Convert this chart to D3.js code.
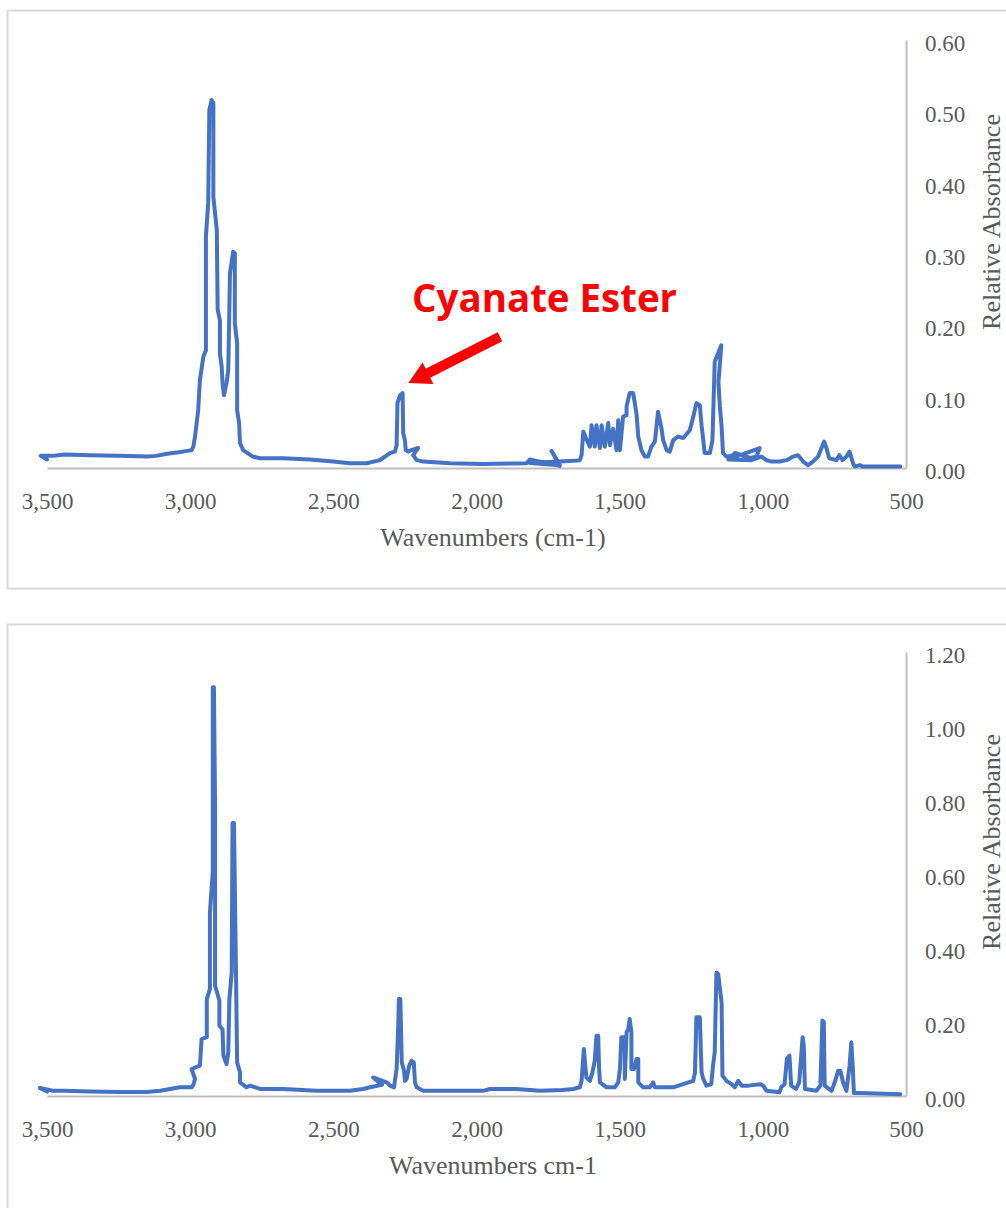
<!DOCTYPE html>
<html>
<head>
<meta charset="utf-8">
<script src="https://cdn.jsdelivr.net/npm/d3@7/dist/d3.min.js"></script>
<style>
  html, body { margin: 0; padding: 0; background: #fff; }
  svg { display: block; }
</style>
</head>
<body>
<svg id="chart" width="1006" height="1208"></svg>
<script>
// FTIR spectra: wavenumber (cm-1) and relative absorbance, traced in scan order
const topWavenumbers = [3500,3522,3480,3440,3350,3250,3150,3120,3080,3040,3010,2995,2989,2983,2972,2966,2954,2945,2945,2937,2933,2925,2919,2919,2907,2904,2896,2896,2890,2887,2882,2873,2867,2864,2861,2850,2844,2844,2836,2836,2829,2826,2815,2781,2756,2675,2582,2500,2442,2384,2337,2320,2302,2285,2279,2276,2267,2258,2256,2250,2247,2239,2227,2204,2221,2209,2186,2093,1977,1825,1814,1709,1738,1709,1814,1660,1639,1633,1627,1616,1604,1598,1587,1581,1569,1563,1552,1540,1534,1523,1511,1505,1499,1488,1476,1476,1465,1453,1447,1441,1435,1424,1412,1401,1389,1377,1366,1354,1348,1336,1325,1313,1296,1278,1255,1243,1232,1220,1214,1208,1203,1185,1176,1168,1145,1155,1150,1144,1139,1127,1104,1098,1045,1022,1011,1120,1040,1005,987,970,941,917,894,877,859,842,825,807,795,786,778,768,743,733,722,708,697,685,679,661,650,520];
const topAbsorbance = [0.012,0.017,0.017,0.019,0.018,0.017,0.016,0.017,0.020,0.022,0.024,0.025,0.030,0.044,0.081,0.123,0.156,0.165,0.324,0.372,0.502,0.516,0.512,0.380,0.334,0.222,0.207,0.161,0.142,0.119,0.102,0.119,0.137,0.203,0.273,0.303,0.301,0.203,0.175,0.081,0.063,0.035,0.025,0.016,0.0136,0.0136,0.012,0.009,0.0066,0.0066,0.011,0.016,0.021,0.023,0.032,0.091,0.102,0.105,0.049,0.039,0.025,0.023,0.025,0.028,0.018,0.011,0.009,0.0066,0.0056,0.0066,0.012,0.003,0.024,0.004,0.007,0.010,0.011,0.018,0.051,0.040,0.030,0.060,0.030,0.060,0.028,0.060,0.030,0.063,0.032,0.055,0.025,0.067,0.025,0.072,0.074,0.086,0.105,0.105,0.091,0.075,0.044,0.025,0.016,0.016,0.030,0.037,0.079,0.056,0.039,0.025,0.023,0.039,0.044,0.042,0.053,0.072,0.091,0.088,0.060,0.039,0.021,0.021,0.039,0.149,0.172,0.120,0.086,0.058,0.021,0.016,0.018,0.021,0.014,0.016,0.028,0.012,0.011,0.016,0.011,0.009,0.009,0.011,0.016,0.018,0.009,0.004,0.009,0.016,0.028,0.037,0.028,0.0136,0.011,0.018,0.011,0.016,0.023,0.0066,0.002,0.004,0.002,0.002];

const bottomWavenumbers = [3500,3525,3480,3440,3350,3250,3150,3105,3036,2995,2989,2983,2995,2966,2960,2942,2942,2931,2931,2921,2921,2917,2913,2913,2898,2898,2887,2884,2873,2867,2863,2855,2852,2847,2840,2836,2826,2826,2803,2791,2756,2675,2558,2442,2396,2372,2330,2361,2314,2302,2288,2285,2279,2273,2271,2266,2261,2253,2250,2244,2235,2227,2219,2215,2209,2186,1977,1953,1860,1778,1700,1662,1639,1633,1625,1620,1616,1604,1595,1587,1581,1575,1572,1569,1546,1517,1505,1499,1494,1482,1482,1476,1470,1465,1459,1459,1450,1441,1435,1435,1418,1395,1383,1377,1313,1278,1243,1237,1232,1220,1214,1208,1197,1180,1174,1168,1162,1156,1144,1141,1127,1109,1098,1086,1074,1050,1010,999,987,942,936,924,916,907,901,884,873,861,857,853,813,799,792,787,784,760,749,737,729,720,708,697,691,686,682,662,520];
const bottomAbsorbance = [0.012,0.022,0.014,0.014,0.012,0.011,0.011,0.014,0.0235,0.0235,0.030,0.046,0.073,0.082,0.154,0.159,0.262,0.289,0.496,0.605,1.105,1.105,0.785,0.298,0.258,0.190,0.181,0.109,0.086,0.118,0.262,0.334,0.738,0.738,0.334,0.091,0.064,0.037,0.0235,0.028,0.019,0.019,0.014,0.014,0.019,0.0235,0.030,0.050,0.037,0.028,0.0235,0.041,0.073,0.200,0.262,0.262,0.091,0.068,0.041,0.046,0.082,0.095,0.091,0.037,0.0235,0.014,0.014,0.019,0.019,0.014,0.016,0.019,0.0235,0.041,0.127,0.080,0.050,0.041,0.064,0.095,0.163,0.163,0.078,0.037,0.0235,0.0235,0.037,0.073,0.159,0.159,0.046,0.172,0.181,0.208,0.172,0.073,0.073,0.100,0.100,0.037,0.0235,0.0235,0.037,0.0235,0.0235,0.032,0.041,0.064,0.213,0.213,0.064,0.046,0.028,0.032,0.082,0.118,0.334,0.330,0.253,0.055,0.041,0.032,0.0235,0.041,0.028,0.028,0.032,0.028,0.014,0.010,0.0235,0.032,0.100,0.109,0.028,0.019,0.037,0.159,0.136,0.019,0.014,0.028,0.204,0.200,0.028,0.014,0.037,0.068,0.068,0.037,0.014,0.082,0.145,0.080,0.008,0.008,0.005];

const xTickValues = [3500, 3000, 2500, 2000, 1500, 1000, 500];
const topYTicks = [0, 0.1, 0.2, 0.3, 0.4, 0.5, 0.6];
const bottomYTicks = [0, 0.2, 0.4, 0.6, 0.8, 1.0, 1.2];

// annotation on the upper panel: label and arrow anchored in data units
const annotationText = "Cyanate Ester";
const annotationLabelAt = [2225, 0.219];
const arrowFrom = [1918, 0.184];
const arrowTo = [2238, 0.119];

const svg = d3.select("#chart");
const lineColor = "#4472C4";
const textColor = "#595959";
const axisColor = "#BFBFBF";
const frameColor = "#D9D9D9";
const serif = "'Liberation Serif', 'Times New Roman', serif";

const x = d3.scaleLinear().domain([3500, 500]).range([47, 906]);

function panel(cfg) {
  const g = svg.append("g");
  // chart frame
  g.append("rect")
    .attr("x", 7.5).attr("y", cfg.frameTop)
    .attr("width", 1010).attr("height", cfg.frameHeight)
    .attr("fill", "none").attr("stroke", frameColor).attr("stroke-width", 2);

  const y = d3.scaleLinear().domain(cfg.yDomain).range(cfg.yRange);
  const axisY = cfg.yRange[0];

  // x axis
  const xAxis = g.append("g")
    .attr("transform", `translate(0,${axisY})`)
    .call(d3.axisBottom(x).tickValues(xTickValues).tickFormat(d3.format(",")).tickSize(0).tickSizeOuter(0).tickPadding(0));
  xAxis.select(".domain").attr("stroke", axisColor).attr("stroke-width", 2);
  xAxis.selectAll("text")
    .attr("y", 41).attr("dy", 0)
    .attr("fill", textColor)
    .style("font-family", serif).style("font-size", "23px");

  // y axis on the right
  const yAxis = g.append("g")
    .attr("transform", "translate(906,0)")
    .call(d3.axisRight(y).tickValues(cfg.yTicks).tickFormat(d3.format(".2f")).tickSize(0).tickSizeOuter(0).tickPadding(19));
  yAxis.select(".domain").attr("stroke", axisColor).attr("stroke-width", 2);
  yAxis.selectAll("text")
    .attr("dy", "0.45em")
    .attr("fill", textColor)
    .style("font-family", serif).style("font-size", "23px");

  // axis titles
  g.append("text")
    .attr("x", 493).attr("y", axisY + 78)
    .attr("text-anchor", "middle")
    .attr("fill", textColor)
    .style("font-family", serif).style("font-size", "26px")
    .text(cfg.xTitle);

  const yMid = (cfg.yRange[0] + cfg.yRange[1]) / 2 - 32;
  g.append("text")
    .attr("transform", `translate(1000,${yMid}) rotate(-90)`)
    .attr("text-anchor", "middle")
    .attr("fill", textColor)
    .style("font-family", serif).style("font-size", "26px")
    .text("Relative Absorbance");

  // spectrum trace
  const pts = cfg.wn.map((w, i) => [w, cfg.abs[i]]);
  const line = d3.line().x(d => x(d[0])).y(d => y(d[1]));
  g.append("path")
    .datum(pts)
    .attr("d", line)
    .attr("fill", "none")
    .attr("stroke", lineColor)
    .attr("stroke-width", 4)
    .attr("stroke-linejoin", "round")
    .attr("stroke-linecap", "round");

  return { g, y };
}

const topPanel = panel({
  frameTop: 10.5, frameHeight: 578,
  yDomain: [0, 0.6], yRange: [468, 40], yTicks: topYTicks,
  xTitle: "Wavenumbers (cm-1)",
  wn: topWavenumbers, abs: topAbsorbance
});

panel({
  frameTop: 624.5, frameHeight: 700,
  yDomain: [0, 1.2], yRange: [1096, 652], yTicks: bottomYTicks,
  xTitle: "Wavenumbers cm-1",
  wn: bottomWavenumbers, abs: bottomAbsorbance
});

// annotation: label and arrow pointing at the cyanate band
const yT = topPanel.y;
topPanel.g.append("text")
  .attr("x", x(annotationLabelAt[0])).attr("y", yT(annotationLabelAt[1]))
  .attr("fill", "#FF0000")
  .attr("textLength", 265).attr("lengthAdjust", "spacingAndGlyphs")
  .style("font-family", "'Open Sans', 'Noto Sans', sans-serif")
  .style("font-weight", 700).style("font-size", "40px")
  .text(annotationText);

(function drawArrow() {
  const x0 = x(arrowFrom[0]), y0 = yT(arrowFrom[1]);
  const x1 = x(arrowTo[0]), y1 = yT(arrowTo[1]);
  const dx = x1 - x0, dy = y1 - y0, len = Math.hypot(dx, dy);
  const ux = dx / len, uy = dy / len, nx = -uy, ny = ux;
  const shaft = 5, head = 12, headLen = 22;
  const bx = x1 - ux * headLen, by = y1 - uy * headLen;
  const p = [
    [x0 + nx * shaft, y0 + ny * shaft],
    [bx + nx * shaft, by + ny * shaft],
    [bx + nx * head, by + ny * head],
    [x1, y1],
    [bx - nx * head, by - ny * head],
    [bx - nx * shaft, by - ny * shaft],
    [x0 - nx * shaft, y0 - ny * shaft]
  ];
  topPanel.g.append("polygon")
    .attr("points", p.map(d => d.join(",")).join(" "))
    .attr("fill", "#FF0000");
})();
</script>
</body>
</html>
